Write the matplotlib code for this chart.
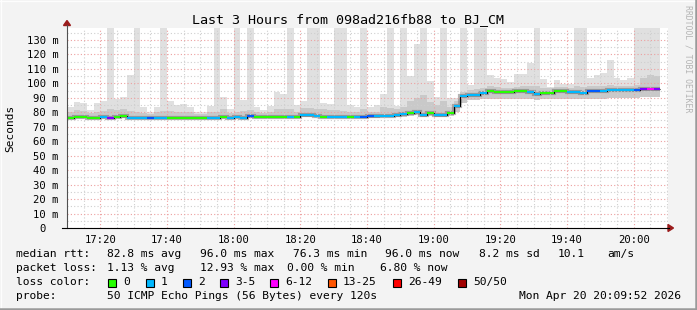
import numpy as np
import matplotlib
matplotlib.use('Agg')
import matplotlib.pyplot as plt
from matplotlib.patches import Rectangle, Polygon
from matplotlib.lines import Line2D

# ---------------- data (ms), one value per 120 s step from 17:10 ----------------
step_min = 2
median_ms = [
    76.3, 77.0, 77.0, 76.3, 76.3, 77.0, 76.3, 76.8, 77.2, 76.3,
    76.3, 76.3, 76.3, 76.3, 76.3, 76.3, 76.3, 76.3, 76.3, 76.3,
    76.3, 76.3, 76.3, 77.0, 76.0, 76.6, 76.0, 77.2, 77.0, 77.0,
    77.0, 77.0, 77.0, 77.0, 77.0, 78.4, 78.4, 77.4, 77.0, 77.0,
    77.0, 77.0, 77.0, 77.0, 77.0, 77.2, 77.2, 77.7, 77.7, 78.4,
    78.8, 79.3, 80.0, 78.1, 79.3, 78.1, 78.1, 79.3, 84.6, 91.0,
    92.2, 92.2, 93.4, 94.5, 94.3, 94.3, 94.3, 94.5, 94.5, 93.8,
    92.7, 93.5, 93.5, 94.5, 94.5, 94.0, 94.0, 93.5, 94.8, 94.8,
    94.8, 95.2, 95.2, 95.5, 95.5, 95.5, 96.0, 96.0, 96.0]

# loss colour index per step (0:"0" 1:"1" 2:"2" 3:"3-5" 4:"6-12" ...)
loss_idx = [
    0, 0, 0, 0, 0, 1, 3, 0, 0, 1,
    1, 1, 2, 1, 1, 0, 0, 0, 0, 0,
    0, 1, 1, 0, 1, 1, 1, 2, 0, 0,
    0, 0, 0, 1, 0, 1, 1, 1, 0, 1,
    1, 1, 0, 1, 2, 2, 1, 1, 1, 1,
    1, 0, 1, 1, 0, 1, 1, 0, 1, 1,
    1, 1, 1, 0, 0, 0, 0, 0, 0, 1,
    1, 0, 0, 0, 0, 1, 1, 1, 2, 2,
    1, 1, 1, 1, 1, 2, 3, 4, 3]

# smoke: highest ping, upper edge of the denser part, lowest ping
smoke_max = [
    83.7, 87.3, 86.4, 81.6, 86.4, 87.8, 140, 89.2, 90.4, 105.8,
    140, 83.9, 80.0, 83.4, 140, 87.8, 85.0, 85.7, 84.0, 80.5,
    80.5, 84.6, 140, 90.8, 82.0, 140, 88.5, 140, 83.9, 81.6,
    84.6, 94.3, 92.7, 140, 84.8, 88.0, 140, 140, 86.6, 85.7,
    140, 140, 85.0, 83.5, 140, 83.9, 85.0, 92.7, 140, 84.6,
    140, 105.3, 127.0, 140, 101.4, 90.4, 140, 89.6, 90.0, 140,
    98.9, 140, 140, 105.8, 103.6, 102.7, 100.7, 106.5, 106.5, 114.0,
    140, 102.7, 97.3, 102.0, 99.7, 99.7, 140, 140, 103.7, 106.0,
    107.0, 116.0, 104.0, 102.0, 104.0, 140, 140, 140, 140]
smoke_upper = [
    80.5, 81.5, 81.0, 79.5, 80.5, 81.0, 82.0, 81.5, 82.0, 81.0,
    80.5, 79.5, 79.0, 80.0, 81.0, 81.0, 80.5, 80.5, 80.0, 79.0,
    79.0, 80.0, 80.5, 82.5, 79.5, 80.5, 81.0, 81.5, 80.0, 79.5,
    80.0, 82.0, 82.0, 82.0, 80.5, 83.0, 83.0, 82.0, 82.0, 81.5,
    81.5, 81.0, 80.5, 80.5, 82.0, 80.5, 80.5, 84.0, 83.0, 82.0,
    84.0, 88.0, 90.0, 92.0, 87.0, 85.0, 88.0, 84.0, 88.0, 94.0,
    95.5, 96.0, 96.5, 98.0, 97.5, 97.0, 97.0, 97.5, 98.0, 98.5,
    98.0, 97.0, 96.5, 97.5, 97.5, 97.0, 98.0, 97.5, 98.0, 98.5,
    98.5, 99.0, 98.5, 98.5, 98.5, 99.0, 104.0, 106.0, 105.0]
smoke_min = [
    75.5, 76.0, 76.0, 75.5, 75.5, 76.0, 75.5, 75.8, 76.0, 75.5,
    75.5, 75.5, 75.5, 75.5, 75.5, 75.5, 75.5, 75.5, 75.5, 75.5,
    75.5, 75.5, 75.5, 76.0, 75.2, 75.8, 75.2, 76.0, 76.0, 76.0,
    76.0, 76.0, 76.0, 76.0, 76.0, 77.0, 77.0, 76.5, 76.0, 76.0,
    76.0, 76.0, 76.0, 76.0, 76.0, 76.0, 76.0, 76.5, 76.5, 77.0,
    77.0, 77.5, 78.0, 77.0, 77.5, 77.0, 77.0, 77.5, 80.5, 86.5,
    88.5, 88.5, 89.0, 89.5, 89.5, 89.5, 89.5, 89.5, 89.5, 89.0,
    88.5, 89.0, 89.0, 89.5, 89.5, 89.0, 89.0, 89.0, 89.5, 89.5,
    89.5, 90.0, 90.0, 90.0, 90.0, 90.0, 90.5, 90.5, 90.5]

loss_colors = ['#26ff00', '#00b8ff', '#0059ff', '#7e00ff',
               '#ff00ff', '#ff5500', '#ff0000', '#a10000']
loss_labels = ['0', '1', '2', '3-5', '6-12', '13-25', '26-49', '50/50']

xtick_pos = [10, 30, 50, 70, 90, 110, 130, 150, 170]
xtick_labels = ['17:20', '17:40', '18:00', '18:20', '18:40',
                '19:00', '19:20', '19:40', '20:00']
ytick_pos = [0, 10, 20, 30, 40, 50, 60, 70, 80, 90, 100, 110, 120, 130]
ytick_labels = ['0  '] + ['%d m' % v for v in ytick_pos[1:]]

# ---------------- figure ----------------
W, H = 697, 310
MONO = 'DejaVu Sans Mono'
plt.rcParams['font.family'] = [MONO]

fig = plt.figure(figsize=(W / 100, H / 100), dpi=100, facecolor='#f3f3f3')

def fx(x):
    return x / W

def fy(y):
    return 1 - y / H

ax = fig.add_axes([fx(67), fy(228), fx(668) - fx(67), (228 - 28) / H])
ax.set_facecolor('white')
ax.set_xlim(0, 180.3)
ax.set_ylim(0, 138.3)

edges = np.arange(len(median_ms) + 1) * step_min
ax.stairs(smoke_max, edges, baseline=smoke_min, fill=True, color='#e0e0e0', lw=0, zorder=1)
ax.stairs(smoke_upper, edges, baseline=smoke_min, fill=True, color='#c9c9c9', lw=0, zorder=1.1)
ax.stairs(median_ms, edges, baseline=None, color='#6a6a6a', lw=3.0, alpha=0.5, zorder=1.2)
ax.stairs(median_ms, edges, baseline=None, color='black', lw=0.8, zorder=3)
ax.hlines(median_ms, edges[:-1], edges[1:], colors=[loss_colors[k] for k in loss_idx],
          lw=1.5, zorder=4)

# grid drawn over the smoke, like rrdtool
ax.set_axisbelow(False)
ax.set_xticks(xtick_pos, xtick_labels)
ax.set_xticks(np.arange(5, 181, 5), minor=True)
ax.set_yticks(ytick_pos, ytick_labels)
ax.set_yticks(np.arange(5, 138, 10), minor=True)
ax.grid(True, which='major', color='#eda0a0', linestyle=(0, (1, 2)), lw=0.8)
ax.grid(True, which='minor', color='#cfcfcf', linestyle=(0, (1, 2)), lw=0.8)
ax.tick_params(which='both', length=0, labelsize=7.6, pad=6)
ax.tick_params(axis='x', pad=5)
for s in ax.spines.values():
    s.set_visible(False)

# axes lines with arrows
fig.add_artist(Line2D([fx(67), fx(67)], [fy(228), fy(25)], color='#505050', lw=0.8))
fig.add_artist(Line2D([fx(62), fx(669)], [fy(228), fy(228)], color='black', lw=0.8))
fig.add_artist(Polygon([[fx(63.5), fy(25.5)], [fx(70.5), fy(25.5)], [fx(67), fy(20.5)]],
                       closed=True, color='#9b1c1c'))
fig.add_artist(Polygon([[fx(668), fy(224.5)], [fx(668), fy(231.5)], [fx(673.5), fy(228)]],
                       closed=True, color='#9b1c1c'))

# titles
fig.text(fx(348), fy(19.5), 'Last 3 Hours from 098ad216fb88 to BJ_CM',
         ha='center', va='center', fontsize=9.6)
fig.text(fx(10), fy(128), 'Seconds', rotation=90, ha='center', va='center', fontsize=8)
fig.text(fx(688), fy(5), 'RRDTOOL / TOBI OETIKER', rotation=270, ha='center', va='top',
         fontsize=5.9, color='#b4b4b4')

# legend block
fs = 8.1
rows = {
    254: [(16, 'median rtt:'), (107, '82.8 ms avg'), (200, '96.0 ms max'), (293, '76.3 ms min'),
          (385, '96.0 ms now'), (479, '8.2 ms sd'), (558, '10.1'), (607, 'am/s')],
    268: [(16, 'packet loss:'), (107, '1.13 % avg'), (200, '12.93 % max'), (287, '0.00 % min'),
          (380, '6.80 % now')],
    282: [(16, 'loss color:')],
    296: [(16, 'probe:'), (107, '50 ICMP Echo Pings (56 Bytes) every 120s')],
}
for yy, items in rows.items():
    for xx, txt in items:
        fig.text(fx(xx), fy(yy), txt, ha='left', va='center', fontsize=fs)
fig.text(fx(681), fy(296), 'Mon Apr 20 20:09:52 2026', ha='right', va='center', fontsize=fs)

box_x = [108, 146, 183, 220, 270, 328, 393, 458]
for bx, col, lab in zip(box_x, loss_colors, loss_labels):
    fig.add_artist(Rectangle((fx(bx), fy(286.5)), 8 / W, 8 / H, facecolor=col,
                             edgecolor='black', lw=0.8))
    fig.text(fx(bx + 15), fy(282), lab, ha='left', va='center', fontsize=fs)

# 3d frame
fig.add_artist(Line2D([0, 1], [fy(0.5), fy(0.5)], color='#fdfdfd', lw=1))
fig.add_artist(Line2D([fx(0.5), fx(0.5)], [0, 1], color='#fdfdfd', lw=1))
fig.add_artist(Line2D([0, 1], [fy(308.8), fy(308.8)], color='#9a9a9a', lw=1.8))
fig.add_artist(Line2D([fx(695.8), fx(695.8)], [0, 1], color='#9a9a9a', lw=1.8))

fig.savefig('out.png', dpi=100, facecolor=fig.get_facecolor())
